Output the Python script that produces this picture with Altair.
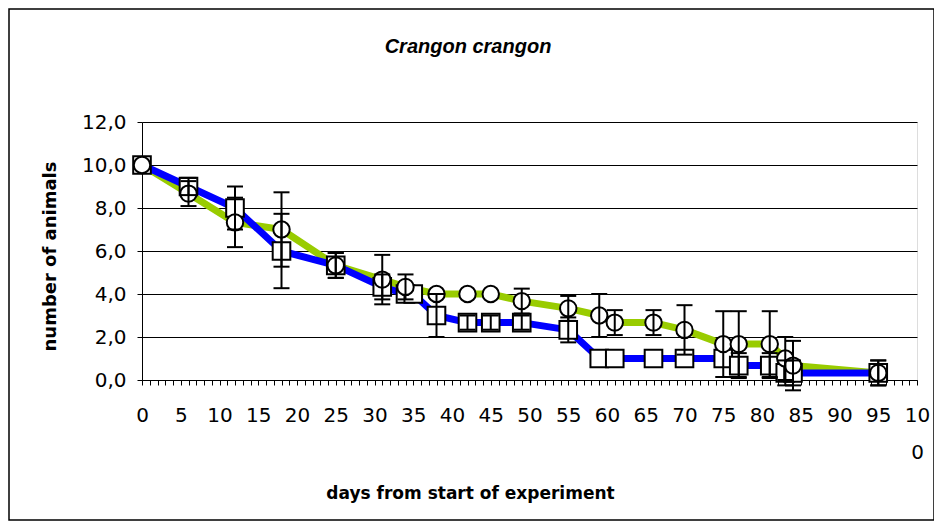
import altair as alt
import pandas as pd

# circle series (green line)
c_day = [0, 6, 12, 18, 25, 31, 34, 38, 42, 45, 49, 55, 59, 61, 66, 70, 75, 77, 81, 83, 84, 95]
c_val = [10.0, 8.67, 7.33, 7.0, 5.33, 4.67, 4.33, 4.0, 4.0, 4.0, 3.67, 3.33, 3.0, 2.67, 2.67, 2.33, 1.67, 1.67, 1.67, 1.0, 0.67, 0.33]
c_err = [0.0, 0.58, 1.15, 1.73, 0.58, 1.15, 0.58, 0.0, 0.0, 0.0, 0.58, 0.58, 1.0, 0.58, 0.58, 1.15, 1.53, 1.53, 1.53, 1.0, 1.15, 0.58]

# square series (blue line)
s_day = [0, 6, 12, 18, 25, 31, 34, 35, 38, 42, 45, 49, 55, 59, 61, 66, 70, 75, 77, 81, 83, 84, 95]
s_val = [10.0, 9.0, 8.0, 6.0, 5.33, 4.33, 4.0, 4.0, 3.0, 2.67, 2.67, 2.67, 2.33, 1.0, 1.0, 1.0, 1.0, 1.0, 0.67, 0.67, 0.33, 0.33, 0.33]
s_err = [0.0, 0.4, 1.0, 1.73, 0.58, 0.58, 0.0, 0.0, 1.0, 0.33, 0.33, 0.33, 0.58, 0.0, 0.0, 0.0, 0.0, 0.0, 0.58, 0.58, 0.58, 0.58, 0.58]

x_ticks = list(range(0, 101))
y_ticks = [0, 2, 4, 6, 8, 10, 12]

chart_title = "Crangon crangon"
x_title = "days from start of experiment"
y_title = "number of animals"

circ = pd.DataFrame({"day": c_day, "val": c_val, "err": c_err})
circ["lo"] = circ["val"] - circ["err"]
circ["hi"] = circ["val"] + circ["err"]
sq = pd.DataFrame({"day": s_day, "val": s_val, "err": s_err})
sq["lo"] = sq["val"] - sq["err"]
sq["hi"] = sq["val"] + sq["err"]
errs = pd.concat([sq, circ], ignore_index=True)
errs = errs[errs["err"] > 0]

FONT = "DejaVu Sans"

xscale = alt.Scale(domain=[0, 100], nice=False, zero=False)
yscale = alt.Scale(domain=[0, 12], nice=False)

xaxis = alt.Axis(
    values=x_ticks,
    labelExpr="datum.value % 5 == 0 ? (datum.value == 100 ? ['10', '0'] : datum.label) : ''",
    labelOverlap=False, labelFlush=False, grid=False,
    tickSize=5, tickColor="black", domainColor="black",
    labelFont=FONT, labelFontSize=20, labelColor="black", labelPadding=20,
    labelLineHeight=37, labelBaseline="top",
    title=x_title, titleFont=FONT, titleFontSize=17,
    titleFontWeight="bold", titleColor="black",
    titleX=328, titleY=113, titleBaseline="middle", titleAnchor="middle",
)
yaxis = alt.Axis(
    values=y_ticks,
    labelExpr="replace(format(datum.value, '.1f'), '.', ',')",
    grid=True, gridColor="black", gridWidth=1,
    tickSize=5, tickColor="black", domainColor="black",
    labelFont=FONT, labelFontSize=20, labelColor="black", labelPadding=11,
    title=y_title, titleFont=FONT, titleFontSize=18,
    titleFontWeight="bold", titleColor="black",
    titleX=-92, titleY=134, titleBaseline="middle", titleAngle=-90,
)


def X(field="day"):
    return alt.X(f"{field}:Q", scale=xscale, axis=xaxis)


def Y(field="val"):
    return alt.Y(f"{field}:Q", scale=yscale, axis=yaxis)


green = alt.Chart(circ).mark_line(color="#99CC00", strokeWidth=7, strokeJoin="round").encode(x=X(), y=Y())
blue = alt.Chart(sq).mark_line(color="#0000FF", strokeWidth=7, strokeJoin="round").encode(x=X(), y=Y())
squares = alt.Chart(sq).mark_point(shape="square", size=310, filled=True, fill="white",
                                   stroke="black", strokeWidth=2, opacity=1).encode(x=X(), y=Y())
circles = alt.Chart(circ).mark_point(shape="circle", size=270, filled=True, fill="white",
                                     stroke="black", strokeWidth=2, opacity=1).encode(x=X(), y=Y())
vrule = alt.Chart(errs).mark_rule(color="black", strokeWidth=2).encode(x=X(), y=Y("lo"), y2="hi:Q")
cap_hi = alt.Chart(errs).mark_rule(color="black", strokeWidth=2, xOffset=-8, x2Offset=8).encode(
    x=X(), x2="day:Q", y=Y("hi"))
cap_lo = alt.Chart(errs).mark_rule(color="black", strokeWidth=2, xOffset=-8, x2Offset=8).encode(
    x=X(), x2="day:Q", y=Y("lo"))

one = pd.DataFrame({"t": [chart_title]})
border = alt.Chart(one).mark_rect(fill=None, stroke="black", strokeWidth=1.5).encode(
    x=alt.value(-133), x2=alt.value(792), y=alt.value(-113), y2=alt.value(398))
title_mark = alt.Chart(one).mark_text(font="Liberation Sans", fontSize=20, fontWeight="bold",
                                      fontStyle="italic", color="black", align="center",
                                      baseline="middle").encode(
    text="t:N", x=alt.value(326), y=alt.value(-75))

chart = alt.layer(green, blue, squares, circles, vrule, cap_hi, cap_lo, border, title_mark).properties(
    width=775, height=258,
    autosize=alt.AutoSizeParams(type="none"),
    padding={"left": 134, "top": 114, "right": 17, "bottom": 141},
).configure_view(stroke="#808080", strokeWidth=1).configure(background="white")

chart.save("out.html", embed_options={"renderer": "svg", "actions": False})
